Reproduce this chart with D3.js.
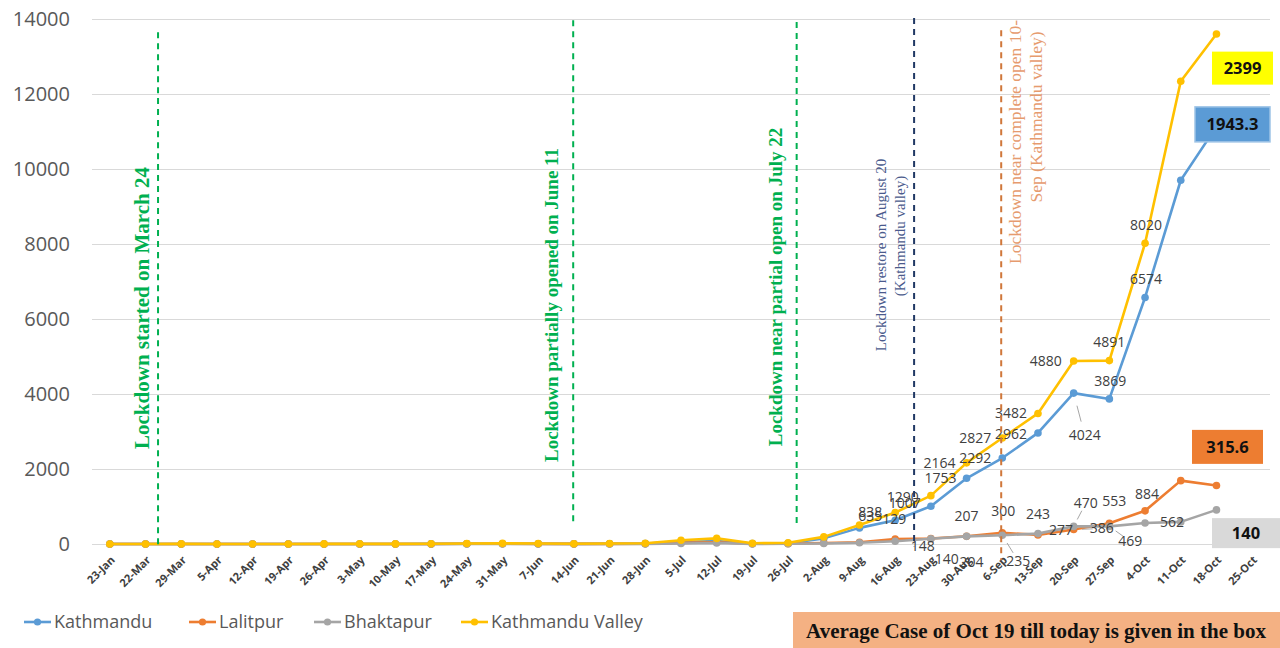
<!DOCTYPE html>
<html>
<head>
<meta charset="utf-8">
<script src="https://cdn.jsdelivr.net/npm/d3@7"></script>
<style>
  body { margin: 0; background: #fff; }
  svg { display: block; }
  .tick-x { font-family: "Open Sans", sans-serif; font-size: 11px; font-weight: 700; fill: #404040; }
  .tick-y { font-family: "Open Sans", sans-serif; font-size: 20px; fill: #595959; }
  .dlabel { font-family: "Open Sans", sans-serif; font-size: 14px; fill: #404040; }
  .legend-text { font-family: "Open Sans", sans-serif; font-size: 18px; fill: #595959; }
</style>
</head>
<body>
<svg id="chart" width="1280" height="648"></svg>
<script>
// weekly dates on the x axis (last one has no data yet)
const categories = ["23-Jan","22-Mar","29-Mar","5-Apr","12-Apr","19-Apr","26-Apr","3-May","10-May","17-May",
  "24-May","31-May","7-Jun","14-Jun","21-Jun","28-Jun","5-Jul","12-Jul","19-Jul","26-Jul","2-Aug","9-Aug",
  "16-Aug","23-Aug","30-Aug","6-Sep","13-Sep","20-Sep","27-Sep","4-Oct","11-Oct","18-Oct","25-Oct"];

const kathmandu = [1,1,2,1,1,1,2,2,2,3,6,8,6,4,8,10,55,80,10,20,150,430,635,1007,1753,2292,2962,4024,3869,6574,9700,11130];
const lalitpur  = [0,1,1,1,0,1,1,1,1,1,5,6,4,3,4,6,30,45,6,10,25,45,129,148,207,300,243,386,553,884,1690,1560];
const bhaktapur = [0,0,0,0,0,0,0,1,0,1,3,4,2,1,3,4,15,25,4,5,15,32,74,140,204,235,277,470,469,562,590,910];
const valley    = [1,2,3,2,1,2,3,4,3,5,14,18,12,8,15,20,100,150,20,35,190,507,838,1290,2164,2827,3482,4880,4891,8020,12340,13600];

const yTicks = [0, 2000, 4000, 6000, 8000, 10000, 12000, 14000];

const seriesNames = ["Kathmandu", "Lalitpur", "Bhaktapur", "Kathmandu Valley"];
const seriesValues = [kathmandu, lalitpur, bhaktapur, valley];
const seriesColors = ["#5B9BD5", "#ED7D31", "#A5A5A5", "#FFC000"];

// average case since Oct 19, shown in the boxes
const averages = ["1943.3", "315.6", "140", "2399"];
const averageFills = ["#5B9BD5", "#ED7D31", "#D9D9D9", "#FFFF00"];

// points that carry a data label: [series index, date, dx, dy, leader]
const labelled = [
  [3,"16-Aug",-25,0], [3,"23-Aug",-28,1], [3,"30-Aug",-27,0], [3,"6-Sep",-27,0], [3,"13-Sep",-27,0],
  [3,"20-Sep",-28,0], [3,"27-Sep",0,-18], [3,"4-Oct",1,-18],
  [0,"16-Aug",-25,-4], [0,"23-Aug",-26,-3], [0,"30-Aug",-26,0], [0,"6-Sep",-27,0], [0,"13-Sep",-27,1],
  [0,"20-Sep",11,42,true], [0,"27-Sep",1,-18], [0,"4-Oct",1,-18],
  [1,"16-Aug",-1,-20], [1,"23-Aug",-8,8], [1,"30-Aug",0,-20], [1,"6-Sep",1,-22], [1,"13-Sep",0,-21],
  [1,"20-Sep",28,-1,true], [1,"27-Sep",5,-22], [1,"4-Oct",2,-17],
  [2,"23-Aug",16,20], [2,"30-Aug",5,26], [2,"6-Sep",16,26,true], [2,"13-Sep",23,-4],
  [2,"20-Sep",12,-23,true], [2,"27-Sep",21,15,true], [2,"4-Oct",27,-1]
];

// event annotations: position as fractional category index
const events = [
  { at: 1.35, lines: ["Lockdown started on March 24"], color: "#00B050", bold: true, top: 13650, bottom: -110, size: 21, tx: [149], ty: [308] },
  { at: 12.98, lines: ["Lockdown partially opened on June 11"], color: "#00B050", bold: true, top: 13970, bottom: 500, size: 19, tx: [558], ty: [305] },
  { at: 19.24, lines: ["Lockdown near partial open on July 22"], color: "#00B050", bold: true, top: 13920, bottom: 430, size: 19, tx: [782], ty: [287] },
  { at: 22.53, lines: ["Lockdown restore on August 20", "(Kathmandu valley)"], color: "#203864", textColor: "#4A5A8C", bold: false, top: 14030, bottom: -60, size: 15, tx: [886, 905], ty: [255, 236] },
  { at: 24.97, lines: ["Lockdown near complete open 10-", "Sep (Kathmandu valley)"], color: "#D0773A", textColor: "#E69B6E", bold: false, top: 13700, bottom: -430, size: 17.5, tx: [1021, 1042], ty: [142, 117] }
];

const svg = d3.select("#chart");
svg.append("rect").attr("width", 1280).attr("height", 648).attr("fill", "#fff");

const x = d3.scaleBand().domain(categories).range([92, 1270]);
const cx = d => x(d) + x.bandwidth() / 2;
const xAt = i => x.range()[0] + (i + 0.5) * x.bandwidth();
const y = d3.scaleLinear().domain([0, 14000]).range([544, 19]);

// y gridlines and labels
const gy = svg.append("g").attr("transform", "translate(92,0)")
  .call(d3.axisLeft(y).tickValues(yTicks).tickFormat(d3.format("d")).tickSize(-(1270 - 92)).tickPadding(22));
gy.select(".domain").remove();
gy.selectAll("line").attr("stroke", "#D9D9D9").attr("stroke-width", 1.2);
gy.selectAll("text").attr("class", "tick-y").attr("font-family", null).attr("font-size", null).attr("fill", null);

// x axis labels, rotated
const gx = svg.append("g").attr("transform", "translate(0,544)")
  .call(d3.axisBottom(x).tickSize(0));
gx.select(".domain").remove();
gx.selectAll("text").attr("class", "tick-x").attr("font-family", null).attr("font-size", null).attr("fill", null)
  .attr("y", 0).attr("dy", "0.35em").attr("text-anchor", "end")
  .attr("transform", "translate(3,14) rotate(-45)");

// series lines + markers
const line = d3.line().x((d, i) => cx(categories[i])).y(d => y(d));
seriesValues.forEach((vals, s) => {
  const g = svg.append("g");
  g.append("path").datum(vals).attr("d", line).attr("fill", "none")
    .attr("stroke", seriesColors[s]).attr("stroke-width", 2.6).attr("stroke-linejoin", "round");
  g.selectAll("circle").data(vals).enter().append("circle")
    .attr("cx", (d, i) => cx(categories[i])).attr("cy", d => y(d)).attr("r", 3.8)
    .attr("fill", seriesColors[s]);
});

// data labels
labelled.forEach(([s, date, dx, dy, leader]) => {
  const i = categories.indexOf(date);
  const v = seriesValues[s][i];
  const px = cx(date), py = y(v);
  if (leader) {
    svg.append("line")
      .attr("x1", px + dx * 0.3).attr("y1", py + dy * 0.3)
      .attr("x2", px + dx * 0.68).attr("y2", py + dy * 0.68)
      .attr("stroke", "#A6A6A6").attr("stroke-width", 1);
  }
  svg.append("text").attr("class", "dlabel")
    .attr("x", px + dx).attr("y", py + dy).attr("dy", "0.35em")
    .attr("text-anchor", "middle").text(v);
});

// event lines and notes
events.forEach(e => {
  const ex = xAt(e.at);
  svg.append("line").attr("x1", ex).attr("x2", ex).attr("y1", y(e.top)).attr("y2", y(e.bottom))
    .attr("stroke", e.color).attr("stroke-width", 2).attr("stroke-dasharray", "6,5");
  e.lines.forEach((t, k) => {
    svg.append("text")
      .attr("transform", `translate(${e.tx[k]},${e.ty[k]}) rotate(-90)`)
      .attr("text-anchor", "middle")
      .attr("font-family", "'Liberation Serif', 'Times New Roman', serif")
      .attr("font-weight", e.bold ? 700 : 400)
      .attr("font-size", e.size)
      .attr("fill", e.textColor || e.color)
      .text(t);
  });
});

// average boxes: [x0, x1, value at box centre, height]
const boxPos = [[1195, 1270, 11190, 35], [1192, 1263, 2590, 34], [1212, 1280, 290, 30], [1212, 1273, 12690, 33]];
averages.forEach((t, s) => {
  const [x0, x1, v, h] = boxPos[s];
  const yc = y(v);
  svg.append("rect").attr("x", x0).attr("y", yc - h / 2).attr("width", x1 - x0).attr("height", h)
    .attr("fill", averageFills[s])
    .attr("stroke", s === 0 ? "#9DC3E6" : "none").attr("stroke-width", 1.5);
  svg.append("text").attr("x", (x0 + x1) / 2).attr("y", yc).attr("dy", "0.35em")
    .attr("text-anchor", "middle").attr("font-family", "'Open Sans', sans-serif")
    .attr("font-weight", 700).attr("font-size", 16.5).attr("fill", "#111").text(t);
});

// legend
const legendX = [24, 189, 314, 461];
seriesNames.forEach((n, s) => {
  const g = svg.append("g").attr("transform", `translate(${legendX[s]},622)`);
  g.append("line").attr("x1", 0).attr("x2", 27).attr("stroke", seriesColors[s]).attr("stroke-width", 2.6);
  g.append("circle").attr("cx", 13.5).attr("r", 3.6).attr("fill", seriesColors[s]);
  g.append("text").attr("class", "legend-text").attr("x", 30).attr("dy", "0.35em").text(n);
});

// note box at bottom right
svg.append("rect").attr("x", 793).attr("y", 612).attr("width", 487).attr("height", 36).attr("fill", "#F4B183");
svg.append("text").attr("x", 1036).attr("y", 631).attr("dy", "0.35em").attr("text-anchor", "middle")
  .attr("font-family", "'Liberation Serif', 'Times New Roman', serif").attr("font-weight", 700)
  .attr("font-size", 21).attr("fill", "#111")
  .text("Average Case of Oct 19 till today is given in the box");
</script>
</body>
</html>
